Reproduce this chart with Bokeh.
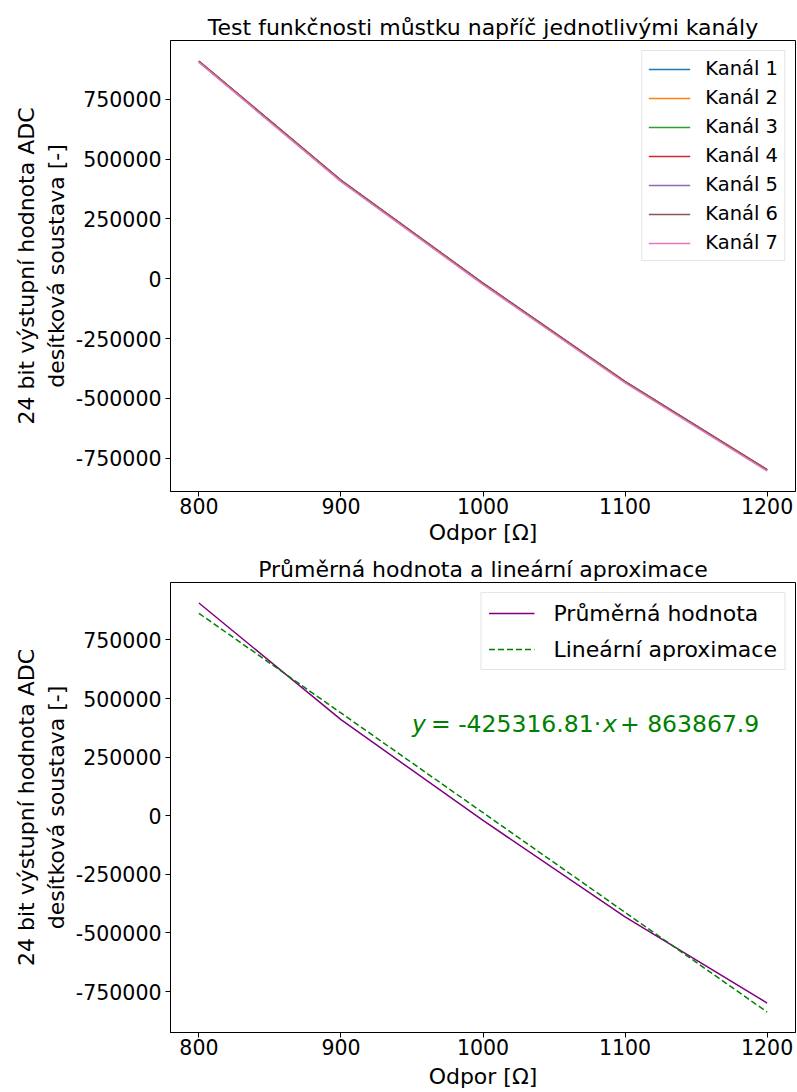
from bokeh.plotting import figure
from bokeh.models import (Legend, LegendItem, Label, Range1d,
                          SingleIntervalTicker, NumeralTickFormatter)
from bokeh.layouts import column
from bokeh.embed import file_html
from bokeh.resources import INLINE

# ---------------- data ----------------
odpor = [800, 900, 1000, 1100, 1200]

kanal_1 = [907000, 409500, -20500, -431500, -799500]
kanal_2 = [908500, 410500, -19500, -430500, -798500]
kanal_3 = [907500, 410000, -20000, -431000, -799000]
kanal_4 = [909000, 411500, -18500, -429500, -797500]
kanal_5 = [907000, 409000, -21000, -432000, -800000]
kanal_6 = [910000, 412000, -18000, -429000, -797000]
kanal_7 = [904000, 406000, -24000, -435000, -803000]

channels = [kanal_1, kanal_2, kanal_3, kanal_4, kanal_5, kanal_6, kanal_7]
channel_names = ["Kanál 1", "Kanál 2", "Kanál 3", "Kanál 4", "Kanál 5", "Kanál 6", "Kanál 7"]
channel_colors = ["#1f77b4", "#ff7f0e", "#2ca02c", "#d62728", "#9467bd", "#8c564b", "#e377c2"]

prumer = [908000, 410000, -20000, -431000, -799000]
aproximace = [863867.9, 438551.1, 13234.3, -412082.5, -837399.3]
slope_txt = "-425316.81"
intercept_txt = "863867.9"

x_ticks_interval = 100
y_ticks_interval = 250000

FONT = "DejaVu Sans"


def pad_range(vals, frac=0.05):
    lo, hi = min(vals), max(vals)
    m = (hi - lo) * frac
    return Range1d(lo - m, hi + m)


def style(p, title, xlabel_standoff):
    p.title.text = title
    p.title.align = "center"
    p.title.text_font = FONT
    p.title.text_font_size = "22px"
    p.title.text_font_style = "normal"
    p.title.text_color = "black"
    p.title.standoff = 2
    p.outline_line_color = "black"
    p.outline_line_alpha = 1
    p.outline_line_width = 1
    p.xgrid.visible = False
    p.ygrid.visible = False
    p.xaxis.ticker = SingleIntervalTicker(interval=x_ticks_interval)
    p.yaxis.ticker = SingleIntervalTicker(interval=y_ticks_interval)
    p.xaxis.formatter = NumeralTickFormatter(format="0")
    p.yaxis.formatter = NumeralTickFormatter(format="0")
    for ax in (p.xaxis[0], p.yaxis[0]):
        ax.axis_line_color = "black"
        ax.major_tick_line_color = "black"
        ax.major_tick_out = 5
        ax.major_tick_in = 0
        ax.minor_tick_line_color = None
        ax.major_label_text_font = FONT
        ax.major_label_text_font_size = "20.5px"
        ax.major_label_text_color = "black"
        ax.major_label_standoff = 4
        ax.axis_label_text_font = FONT
        ax.axis_label_text_font_size = "22px"
        ax.axis_label_text_font_style = "normal"
        ax.axis_label_text_color = "black"
        ax.axis_label_standoff = 4
    p.xaxis.major_label_standoff = 1
    p.xaxis.axis_label_standoff = xlabel_standoff
    p.xaxis.axis_label = "Odpor [Ω]"
    p.yaxis.axis_label = "24 bit výstupní hodnota ADC\ndesítková soustava [-]"


# ---------------- top figure ----------------
all_top = [v for ch in channels for v in ch]
p1 = figure(width=797, height=547, output_backend="svg", toolbar_location=None,
            x_range=pad_range(odpor), y_range=pad_range(all_top),
            min_border_left=170, min_border_right=2, min_border_top=40,
            min_border_bottom=55)
style(p1, "Test funkčnosti můstku napříč jednotlivými kanály", 3)

items = []
for vals, name, col in zip(channels, channel_names, channel_colors):
    r = p1.line(odpor, vals, line_color=col, line_width=1.5)
    items.append(LegendItem(label=name, renderers=[r]))

leg1 = Legend(items=items, location="top_right",
              label_text_font=FONT, label_text_font_size="19.5px",
              label_text_color="black",
              label_height=22, glyph_height=22, glyph_width=42,
              spacing=6, padding=6, label_standoff=15, margin=10,
              border_line_color="#cccccc", border_line_width=1,
              background_fill_color="white", background_fill_alpha=0.8)
p1.add_layout(leg1)

# ---------------- bottom figure ----------------
p2 = figure(width=797, height=545, output_backend="svg", toolbar_location=None,
            x_range=pad_range(odpor), y_range=pad_range(prumer + aproximace),
            min_border_left=170, min_border_right=2, min_border_top=35,
            min_border_bottom=60)
style(p2, "Průměrná hodnota a lineární aproximace", 6)

r_avg = p2.line(odpor, prumer, line_color="purple", line_width=1.5)
r_fit = p2.line(odpor, aproximace, line_color="green", line_width=1.5,
                line_dash="6 3")

leg2 = Legend(items=[LegendItem(label="Průměrná hodnota", renderers=[r_avg]),
                     LegendItem(label="Lineární aproximace", renderers=[r_fit])],
              location="top_right",
              label_text_font=FONT, label_text_font_size="22px",
              label_text_color="black",
              label_height=26, glyph_height=26, glyph_width=46,
              spacing=10, padding=7, label_standoff=19, margin=10,
              border_line_color="#cccccc", border_line_width=1,
              background_fill_color="white", background_fill_alpha=0.8)
p2.add_layout(leg2)

eq_x = 950
eq_y = 390000
eq_parts = [("y", "italic", 0),
            ("= " + slope_txt + "·", "normal", 19),
            ("x", "italic", 191),
            ("+ " + intercept_txt, "normal", 208)]
for txt, style_, off in eq_parts:
    p2.add_layout(Label(x=eq_x, y=eq_y, x_offset=off, text=txt,
                        text_font=FONT, text_font_size="23.5px",
                        text_font_style=style_, text_color="green",
                        text_baseline="middle", text_align="left"))

layout = column(p1, p2)
open("out.html", "w").write(file_html(layout, INLINE))
